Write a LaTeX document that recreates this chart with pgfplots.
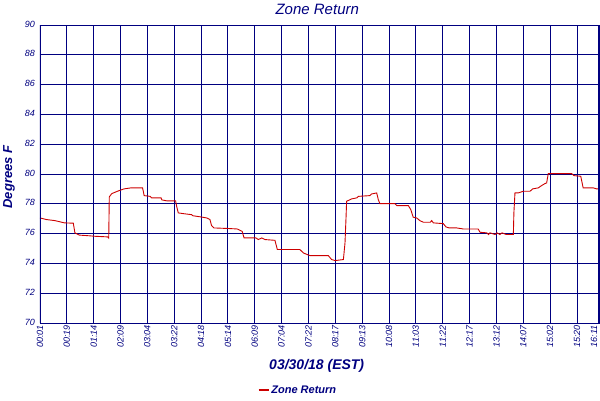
\documentclass[border=0pt]{standalone}
\usepackage{fontspec}
\setmainfont{Liberation Sans}
\usepackage{pgfplots}
\pgfplotsset{compat=1.18}
\definecolor{navy}{RGB}{0,0,128}
\definecolor{zonered}{RGB}{204,0,0}

\begin{document}
\begin{tikzpicture}
\begin{axis}[
  scale only axis,
  width=559pt, height=298pt,
  xmin=0, xmax=20.82, ymin=70, ymax=90,
  xtick={0,1,2,3,4,5,6,7,8,9,10,11,12,13,14,15,16,17,18,19,20,20.82},
  xticklabels={00:01,00:19,01:14,02:09,03:04,03:22,04:18,05:14,06:09,07:04,07:22,08:17,09:13,10:08,11:03,11:22,12:17,13:12,14:07,15:02,15:20,\raisebox{5pt}[\height][\depth]{16:11}},
  ytick={70,72,...,90},
  grid=major,
  major grid style={navy, line width=0.9pt},
  axis line style={navy, line width=0.9pt},
  tick style={draw=none},
  /pgf/number format/assume math mode=true,
  ticklabel style={navy, font=\fontsize{9}{10}\selectfont\itshape},
  x tick label style={rotate=90, anchor=east, inner sep=2pt},
  y tick label style={inner sep=2pt, xshift=-3pt, yshift=1pt},
  title={Zone Return},
  title style={navy, font=\fontsize{15}{17}\selectfont\itshape,
               at={(0.496,1)}, anchor=center, yshift=10pt},
  xlabel={03/30/18 (EST)},
  xlabel style={navy, font=\fontsize{14}{16}\selectfont\bfseries\itshape,
                at={(0.495,0)}, anchor=center, yshift=-43pt},
  ylabel={Degrees F},
  ylabel style={navy, font=\fontsize{13}{15}\selectfont\bfseries\itshape,
                at={(0,0.49)}, anchor=center, yshift=31pt},
  legend style={at={(0.4615,0)}, anchor=center, yshift=-67pt,
                draw=none, fill=none, inner sep=1pt,
                font=\fontsize{11}{12}\selectfont\bfseries\itshape, text=navy},
  legend image code/.code={\draw[#1, line width=1.6pt] (0pt,0pt) -- (10pt,0pt);},
]
\addplot[zonered, line width=0.9pt] table {
0.00 77.05
0.25 76.94
0.56 76.87
0.91 76.72
1.24 76.70
1.30 76.05
1.46 75.90
1.86 75.85
2.05 75.82
2.52 75.78
2.56 75.70
2.57 77.05
2.58 78.46
2.67 78.68
2.88 78.84
3.13 79.00
3.39 79.07
3.82 79.07
3.88 78.55
4.10 78.50
4.16 78.40
4.51 78.40
4.54 78.26
4.72 78.20
5.05 78.20
5.09 77.83
5.15 77.39
5.34 77.34
5.65 77.27
5.69 77.20
5.99 77.12
6.21 77.05
6.33 76.94
6.39 76.54
6.48 76.38
7.05 76.34
7.35 76.31
7.53 76.15
7.60 75.71
8.04 75.71
8.13 75.60
8.26 75.71
8.38 75.60
8.75 75.55
8.84 74.93
9.68 74.93
9.81 74.70
10.06 74.52
10.74 74.52
10.86 74.26
10.99 74.19
11.30 74.26
11.36 75.38
11.40 77.16
11.42 78.17
11.61 78.33
11.80 78.40
11.86 78.50
12.29 78.55
12.35 78.66
12.54 78.73
12.60 78.28
12.66 78.01
13.22 78.01
13.29 77.88
13.72 77.88
13.81 77.61
13.90 77.10
14.03 77.05
14.15 76.87
14.28 76.76
14.53 76.76
14.59 76.87
14.65 76.72
15.02 76.67
15.12 76.45
15.24 76.38
15.52 76.38
15.77 76.31
16.32 76.31
16.39 76.09
16.64 76.05
16.70 75.94
16.76 76.05
16.95 75.94
17.02 76.05
17.13 75.94
17.21 76.05
17.36 75.94
17.63 75.94
17.65 77.39
17.69 78.73
17.81 78.73
18.00 78.84
18.25 78.84
18.35 79.00
18.56 79.07
18.68 79.22
18.81 79.36
18.87 79.40
18.93 80.03
19.80 80.03
19.89 79.89
20.14 79.85
20.23 79.07
20.61 79.07
20.73 79.00
20.78 79.00
};
\addlegendentry{Zone Return}
\draw[navy, line width=2pt] (rel axis cs:0,0) -- (rel axis cs:0,1);
\draw[navy, line width=2pt] (rel axis cs:1,0) -- (rel axis cs:1,1);
\coordinate (ll) at (rel axis cs:0,0);
\end{axis}
\pgfresetboundingbox
\path (ll) ++(-40pt,-77pt) rectangle ++(600pt,400pt);
\end{tikzpicture}
\end{document}
